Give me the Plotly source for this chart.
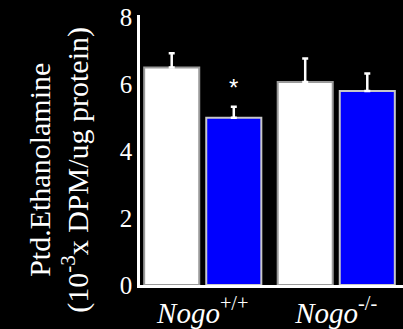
import plotly.graph_objects as go

# Data
genotypes = ["<i>Nogo</i><sup>+/+</sup>", "<i>Nogo</i><sup>-/-</sup>"]
control_vals = [6.5, 6.07]
control_err = [0.43, 0.70]
treated_vals = [5.0, 5.8]
treated_err = [0.33, 0.52]
y_ticks = [0, 2, 4, 6, 8]

serif = "Liberation Serif, Times New Roman, serif"
bar_gap = 0.07

W, H = 403, 329
M = dict(l=140, r=0, t=15, b=42)


def paper_xy(px, py):
    """Pixel position in the figure -> paper coordinates of the plot area."""
    pw = W - M["l"] - M["r"]
    ph = H - M["t"] - M["b"]
    return (px - M["l"]) / pw, (H - M["b"] - py) / ph


fig = go.Figure()
fig.add_trace(go.Bar(
    x=genotypes, y=control_vals,
    marker=dict(color="#ffffff", line=dict(color="#9a9a9a", width=2)),
    error_y=dict(type="data", symmetric=False, array=control_err,
                 arrayminus=[0] * len(control_err),
                 color="#ffffff", thickness=2.5, width=3),
))
fig.add_trace(go.Bar(
    x=genotypes, y=treated_vals,
    marker=dict(color="#0000ff", line=dict(color="#c8c8c8", width=2)),
    error_y=dict(type="data", symmetric=False, array=treated_err,
                 arrayminus=[0] * len(treated_err),
                 color="#ffffff", thickness=2.5, width=3),
))

# significance marker above the treated Nogo+/+ bar
fig.add_annotation(
    x=(1 - bar_gap) / 4, y=treated_vals[0] + treated_err[0],
    xref="x", yref="y", text="*", showarrow=False,
    yshift=19, font=dict(family="Arial, sans-serif", size=24, color="#ffffff"),
)

# two-line y-axis title
for text, px in [("Ptd.Ethanolamine", 40),
                 ("(10<sup>-3</sup>x DPM/ug protein)", 76)]:
    ax, ay = paper_xy(px, 171)
    fig.add_annotation(
        x=ax, y=ay, xref="paper", yref="paper", text=text,
        xanchor="center", yanchor="middle",
        textangle=-90, showarrow=False,
        font=dict(family=serif, size=30, color="#ffffff"),
    )

fig.update_layout(
    width=W, height=H,
    margin=M,
    paper_bgcolor="#000000", plot_bgcolor="#000000",
    barmode="group", bargap=bar_gap, bargroupgap=0.113,
    showlegend=False,
    xaxis=dict(range=[-0.47, 1.5], showline=True, linecolor="#ffffff",
               linewidth=2.5, showgrid=False, zeroline=False, ticks="",
               tickfont=dict(family=serif, size=29, color="#ffffff")),
    yaxis=dict(range=[0, 8.07], tickvals=y_ticks, showline=True,
               linecolor="#ffffff", linewidth=2.5, showgrid=False,
               zeroline=False, ticks="", ticklabelstandoff=0,
               tickfont=dict(family=serif, size=25, color="#ffffff")),
)

fig.write_html("out.html")
